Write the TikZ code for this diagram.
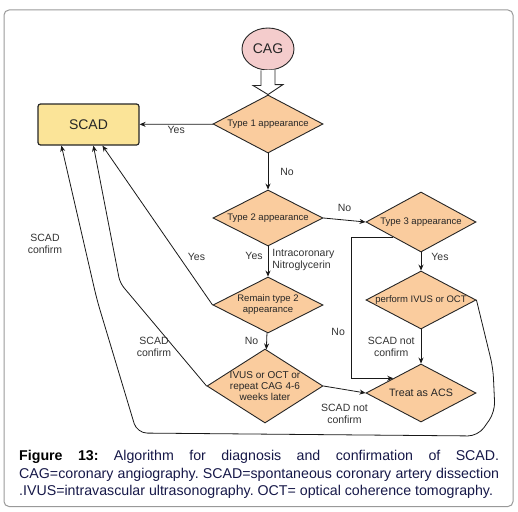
\documentclass[tikz,border=0pt]{standalone}
\usepackage{fontspec}
\setmainfont{Liberation Sans}
\usepackage{tikz}
\usetikzlibrary{arrows.meta,positioning,shapes.geometric,calc}
\usepackage{xcolor}
\definecolor{peach}{RGB}{250,204,158}
\definecolor{scadyellow}{RGB}{251,228,152}
\definecolor{cagpink}{RGB}{244,204,204}
\definecolor{capnavy}{RGB}{22,24,72}

\begin{document}
\begin{tikzpicture}[x=1pt, y=-1pt,
    decision/.style={diamond, draw=black!85, fill=peach, line width=0.9pt, minimum width=110pt, minimum height=58pt, inner sep=-2pt, shape aspect=1.9, align=center, text=black!85, font=\fontsize{9.5}{11}\selectfont},
    scadbox/.style={draw=black!85, fill=scadyellow, line width=1.2pt, rounded corners=2.5pt, minimum width=101pt, minimum height=41pt, text=black!85, font=\fontsize{14}{16}\selectfont},
    cagnode/.style={ellipse, draw=black!85, fill=cagpink, line width=0.9pt, minimum width=52pt, minimum height=42pt, inner sep=0pt, text=black!85, font=\fontsize{14}{16}\selectfont},
    lbl/.style={font=\fontsize{10.5}{12}\selectfont, text=black!80, inner sep=2pt, align=center},
    arrow/.style={-{Stealth[length=6pt,width=5pt]}, line width=0.8pt, draw=black!90},
    captionline/.style={anchor=base west, inner sep=0pt, text=capnavy, font=\fontsize{14.2}{17.5}\selectfont\frenchspacing}
]
\useasboundingbox (0,0) rectangle (518,511);

% Frame
\draw[black!40, line width=1pt, rounded corners=5pt] (4,10) rectangle (513,506.5);

% Start
\node[cagnode] (cag) at (268,49) {CAG};

% Result box
\node[scadbox] (scad) at (88.5,124.5) {SCAD};

% Decisions
\node[decision] (type1) at (268,124) {Type 1 appearance};
\node[decision, minimum height=56pt] (type2) at (268,218) {Type 2 appearance};
\node[decision, minimum height=60pt] (type3) at (421,222) {Type 3 appearance};
\node[decision, minimum height=56pt] (remain) at (268,305) {Remain type 2\\appearance};
\node[decision] (perform) at (421,300) {perform IVUS or OCT};
\node[decision, minimum width=116pt, minimum height=74pt, shape aspect=1.57, font=\fontsize{10}{11}\selectfont] (ivus) at (265,386) {IVUS or OCT or\\repeat CAG 4-6\\weeks later};
\node[decision, font=\fontsize{10.7}{12}\selectfont] (treat) at (421,393) {Treat as ACS};

% Hollow arrow
\draw[line width=0.9pt, draw=black!85, fill=white] ([xshift=-7pt]cag.south) -- ++(0,15) -- ++(-8,0) -- (type1.north) -- ++(15,-10) -- ++(-8,0) -- ++(0,-15);

% Arrows
\draw[arrow] (type1) -- (scad) node[lbl, midway, below=0pt] {Yes};
\draw[arrow] (type1) -- (type2) node[lbl, midway, right=10pt] {No};
\draw[arrow] (type2.east) -- (type3.west) node[lbl, midway, above=6pt] {No};
\draw[arrow] (type2) -- (remain) node[lbl, pos=0.3, left=3pt] {Yes}
    node[lbl, pos=0.45, right=2pt, align=left] {Intracoronary\\Nitroglycerin};
\draw[arrow] (type3) -- (perform) node[lbl, pos=0.25, right=8pt] {Yes};
\draw[arrow] (remain) -- (ivus) node[lbl, midway, left=6pt] {No};
\draw[arrow] (perform) -- (treat) node[lbl, midway, left=4pt] {SCAD not\\confirm};
\draw[arrow] (ivus.east) -- (treat.west) node[lbl, midway, below=12pt] {SCAD not\\confirm};
\draw[arrow] (type3.south west) -- ++(-42,0) |- (treat.north west) node[lbl, pos=0.337, left=4pt] {No};

% Back to SCAD
\draw[arrow] (remain.west) -- ([xshift=65pt]scad.south west) node[lbl, pos=0.3, right=6pt] {Yes};
\draw[arrow, rounded corners=6pt] (ivus.west) -- (120,283) -- ([xshift=56pt]scad.south west);
\draw[arrow, rounded corners=10pt] (perform.east) -- (493,368) -- (495,412) -- (478,436) -- (137,433) -- (97,300) -- ([xshift=24pt]scad.south west);
\node[lbl] (confirmA) at (45,244) {SCAD\\confirm};
\node[lbl] (confirmB) at (154,347) {SCAD\\confirm};

% Caption
\node[captionline] (cap1) at (19,460.7) {\makebox[480pt][s]{\textcolor{black}{\textbf{Figure 13:}} Algorithm for diagnosis and confirmation of SCAD.}};
\node[captionline] (cap2) at (19,478.2) {\makebox[480pt][s]{CAG=coronary angiography. SCAD=spontaneous coronary artery dissection}};
\node[captionline] (cap3) at (19,495.7) {.IVUS=intravascular ultrasonography. OCT= optical coherence tomography.};

\end{tikzpicture}
\end{document}
